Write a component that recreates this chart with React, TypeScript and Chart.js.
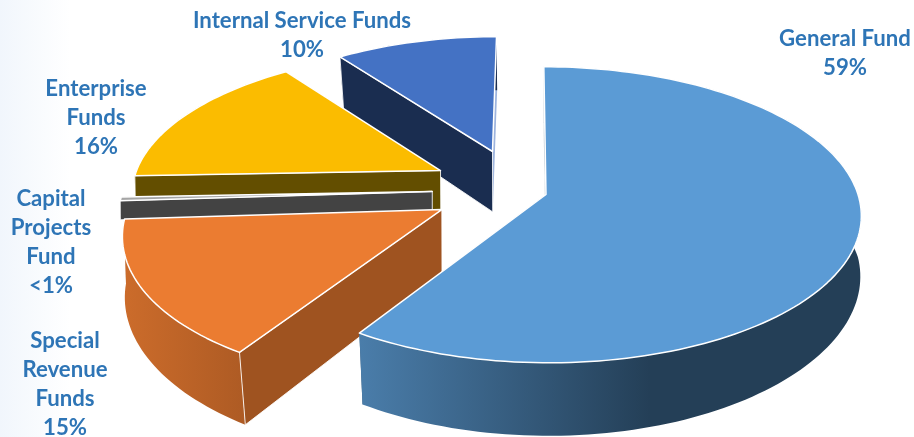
import React, { useEffect, useRef } from "react";
import { Chart, registerables } from "chart.js";

Chart.register(...registerables);

// ---- data ----
const categories = ["General Fund", "Special Revenue Funds", "Capital Projects Fund", "Enterprise Funds", "Internal Service Funds"];
const shares = [59, 15, 0.4, 15.5, 10.1];
const percentLabels = ["59%", "15%", "<1%", "16%", "10%"];
const labelLines = [["General Fund"], ["Special", "Revenue", "Funds"], ["Capital", "Projects", "Fund"], ["Enterprise", "Funds"], ["Internal Service Funds"]];

// ---- styles and layout ----
const faceColors = ["#5B9BD5", "#EB7C31", "#A5A5A5", "#FBBC00", "#4472C4"];
const startWallColors = ["#3F5F7C", "#9F5320", "#434343", "#634E00", "#1A2D50"];
const endWallColors = ["#3F5F7C", "#9F5320", "#434343", "#634E00", "#9DB4DE"];
const outerWallStops: [number, number, [number, string][]][] = [
  [360, 860, [[0, "#4A7DAA"], [0.58, "#243F57"], [1, "#243F57"]]],
  [122, 244, [[0, "#CC6C2B"], [1, "#AE5B24"]]],
  [120, 440, [[0, "#434343"], [1, "#434343"]]],
  [136, 440, [[0, "#634E00"], [1, "#634E00"]]],
  [340, 500, [[0, "#1A2D50"], [1, "#1A2D50"]]],
];
const sliceOffsets = [[18, 0], [-85, 31.8], [-96, -6.4], [-89.5, -52.7], [-37, -96.3]];
const sliceRadiiX = [312, 310, 310, 311, 302];
const sliceRadiiY = [312, 312, 312, 305, 302];
const sliceDepths = [63, 63, 19, 63, 63];
const labelCenters = [[845, 46], [65, 348], [51, 206], [96, 96], [302, 28]];
const LINE_GAP = 29;
const FONT = "bold 22.2px Lato";
const TEXT_COLOR = "#2E75B6";

// perspective of the pie plane
const VX = 528;
const VY = 194.5;
const TILT = 0.4655;
const PERSP = 0.000439;
const DOWN_CONVERGE = 0.00032;

const project = (x: number, y: number, z = 0): [number, number] => {
  const w = 1 - PERSP * y;
  const converge = z * DOWN_CONVERGE * Math.min(1, Math.abs(y) / 280);
  return [VX + (x / w) * (1 - converge), VY + (TILT * y + z) / w];
};

const tracePoly = (ctx: CanvasRenderingContext2D, pts: [number, number][]) => {
  ctx.beginPath();
  pts.forEach((p, i) => (i ? ctx.lineTo(p[0], p[1]) : ctx.moveTo(p[0], p[1])));
  ctx.closePath();
};

const pie3d = {
  id: "pie3d",
  beforeDatasetsDraw(chart: any) {
    const ctx: CanvasRenderingContext2D = chart.ctx;
    const arcs = chart.getDatasetMeta(0).data;
    const order = [4, 3, 2, 1, 0];
    ctx.save();
    ctx.lineJoin = "round";
    order.forEach((i) => {
      const arc = arcs[i];
      const [ox, oy] = sliceOffsets[i];
      const rx = sliceRadiiX[i];
      const ry = sliceRadiiY[i];
      const depth = sliceDepths[i];
      const a0 = arc.startAngle + Math.PI / 2;
      const a1 = arc.endAngle + Math.PI / 2;
      const n = Math.max(2, Math.ceil(((a1 - a0) / (2 * Math.PI)) * 240));
      const rim = (z: number) => {
        const out: [number, number][] = [];
        for (let k = 0; k <= n; k++) {
          const t = a0 + ((a1 - a0) * k) / n;
          out.push(project(ox + rx * Math.sin(t), oy - ry * Math.cos(t), z));
        }
        return out;
      };
      const top = rim(0);
      const bottom = rim(depth);
      const apexTop = project(ox, oy, 0);
      const apexBottom = project(ox, oy, depth);

      // end wall
      ctx.fillStyle = endWallColors[i];
      tracePoly(ctx, [apexTop, top[n], bottom[n], apexBottom]);
      ctx.fill();

      // outer wall
      const [g0, g1, stops] = outerWallStops[i];
      const g = ctx.createLinearGradient(g0, 0, g1, 0);
      stops.forEach(([p, c]) => g.addColorStop(p, c));
      ctx.fillStyle = g;
      tracePoly(ctx, [...top, ...bottom.slice().reverse()]);
      ctx.fill();

      // start wall
      ctx.fillStyle = startWallColors[i];
      ctx.strokeStyle = "rgba(255,255,255,0.85)";
      ctx.lineWidth = 1;
      tracePoly(ctx, [apexTop, top[0], bottom[0], apexBottom]);
      ctx.fill();
      ctx.stroke();

      // top face
      ctx.fillStyle = arc.options.backgroundColor;
      ctx.strokeStyle = "#FFFFFF";
      ctx.lineWidth = 1.5;
      tracePoly(ctx, [apexTop, ...top]);
      ctx.fill();
      ctx.stroke();
    });
    ctx.restore();
    return false;
  },
  afterDraw(chart: any) {
    const ctx: CanvasRenderingContext2D = chart.ctx;
    ctx.save();
    ctx.font = FONT;
    ctx.fillStyle = TEXT_COLOR;
    ctx.textAlign = "center";
    ctx.textBaseline = "alphabetic";
    categories.forEach((_, i) => {
      const [cx, cy] = labelCenters[i];
      [...labelLines[i], percentLabels[i]].forEach((line, j) => {
        ctx.fillText(line, cx, cy + j * LINE_GAP);
      });
    });
    ctx.restore();
  },
};

export default function App() {
  const ref = useRef<HTMLCanvasElement>(null);
  useEffect(() => {
    const chart = new Chart(ref.current!, {
      type: "pie",
      data: {
        labels: categories,
        datasets: [{ data: shares, backgroundColor: faceColors, borderWidth: 0 }],
      },
      options: {
        responsive: false,
        animation: false,
        devicePixelRatio: 1,
        plugins: { legend: { display: false }, tooltip: { enabled: false } },
      },
      plugins: [pie3d],
    } as any);
    return () => chart.destroy();
  }, []);
  return (
    <div
      style={{
        position: "fixed",
        left: 0,
        top: 0,
        width: 914,
        height: 437,
        overflow: "hidden",
        background: "linear-gradient(90deg, #F1F6FC 0px, #FFFFFF 70px)",
      }}
    >
      <canvas ref={ref} width={914} height={437} style={{ display: "block" }} />
    </div>
  );
}
